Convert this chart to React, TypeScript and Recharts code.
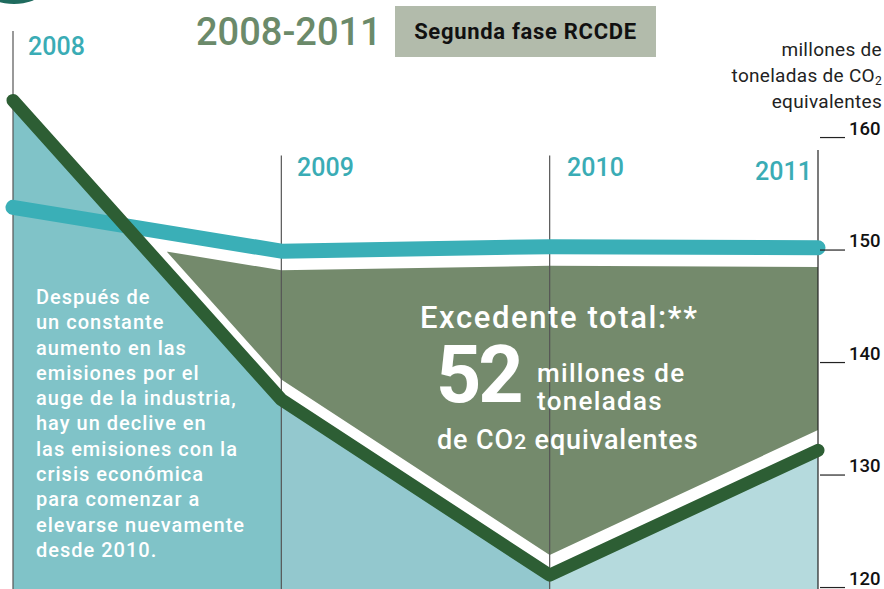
import React from "react";
import {
  ComposedChart,
  Area,
  Line,
  XAxis,
  YAxis,
  ReferenceLine
} from "recharts";

// emisiones verificadas (línea verde oscuro) y límite asignado (línea turquesa)
const years = [2008, 2009, 2010, 2011];
const emissions = [163.3, 136.7, 121.1, 132.2];
const allowances = [153.8, 149.9, 150.3, 150.2];
const yTicks = [120, 130, 140, 150, 160];

const W = 884;
const H = 589;
const Y_MIN = 119.87;
const Y_MAX = 169.56;

// white gaps between the olive surplus area and the two lines (value units)
const GAP_EMI = 1.8;
const GAP_ALLOW = 1.7;

const data = years.map((year, i) => ({
  year,
  emissions: emissions[i],
  allowances: allowances[i]
}));

// where the inset olive area starts (first segment, lines cross)
const crossT = (() => {
  const a0 = emissions[0] + GAP_EMI - (allowances[0] - GAP_ALLOW);
  const a1 = emissions[1] + GAP_EMI - (allowances[1] - GAP_ALLOW);
  const t = a0 / (a0 - a1);
  return t / (years.length - 1);
})();

const FONT = "Roboto, 'Noto Sans', sans-serif";
const TEAL = "#3aafb7";
const DARK = "#2d5e34";
const OLIVE = "#748a6c";
const GRID = "#555";

function RightTick({ x, y, payload }: any) {
  return (
    <g>
      <line x1={x + 2} x2={x + 27} y1={y} y2={y} stroke="#222" strokeWidth={1.2} />
      <text x={x + 31} y={y - 3} fontSize={18.5} fontWeight={500} fill="#111" fontFamily={FONT}>
        {payload.value}
      </text>
    </g>
  );
}

const yearStyle: React.CSSProperties = {
  position: "absolute",
  color: "#3aacb5",
  fontSize: 25,
  fontWeight: 500,
  lineHeight: "26px"
};

const white = (extra: React.CSSProperties): React.CSSProperties => ({
  position: "absolute",
  color: "#fff",
  fontWeight: 500,
  whiteSpace: "nowrap",
  ...extra
});

export default function App() {
  return (
    <div
      style={{
        position: "absolute",
        left: 0,
        top: 0,
        width: W,
        height: H,
        overflow: "hidden",
        background: "#fff",
        fontFamily: FONT
      }}
    >
      <ComposedChart
        width={W}
        height={H}
        data={data}
        margin={{ top: 30, right: 0, bottom: 0, left: 13 }}
      >
        <defs>
          <linearGradient id="tealFill" x1="0" y1="0" x2="1" y2="0">
            <stop offset="0" stopColor="#80c3c8" />
            <stop offset="0.3333" stopColor="#80c3c8" />
            <stop offset="0.3333" stopColor="#93c8ce" />
            <stop offset="0.6667" stopColor="#93c8ce" />
            <stop offset="0.6667" stopColor="#b5dadd" />
            <stop offset="1" stopColor="#b5dadd" />
          </linearGradient>
          <linearGradient id="oliveFill" x1="0" y1="0" x2="1" y2="0">
            <stop offset="0" stopColor={OLIVE} stopOpacity={0} />
            <stop offset={crossT} stopColor={OLIVE} stopOpacity={0} />
            <stop offset={crossT} stopColor={OLIVE} stopOpacity={1} />
            <stop offset="1" stopColor={OLIVE} stopOpacity={1} />
          </linearGradient>
        </defs>
        <XAxis dataKey="year" type="number" domain={[2008, 2011]} hide />
        <YAxis
          orientation="right"
          width={66}
          domain={[Y_MIN, Y_MAX]}
          ticks={yTicks}
          interval={0}
          allowDataOverflow
          axisLine={false}
          tickLine={false}
          tickSize={0}
          tickMargin={0}
          tick={<RightTick />}
        />
        <Area
          dataKey="emissions"
          type="linear"
          stroke="none"
          fill="url(#tealFill)"
          fillOpacity={1}
          baseValue={Y_MIN}
          isAnimationActive={false}
        />
        <ReferenceLine
          segment={[{ x: 2008, y: 169.47 }, { x: 2008, y: Y_MIN }]}
          stroke={GRID}
          strokeWidth={1.2}
        />
        <ReferenceLine
          segment={[{ x: 2009, y: 158.4 }, { x: 2009, y: Y_MIN }]}
          stroke={GRID}
          strokeWidth={1.2}
        />
        <ReferenceLine
          segment={[{ x: 2010, y: 158.4 }, { x: 2010, y: Y_MIN }]}
          stroke={GRID}
          strokeWidth={1.2}
        />
        <ReferenceLine
          segment={[{ x: 2011, y: 158.9 }, { x: 2011, y: Y_MIN }]}
          stroke="#222"
          strokeWidth={1.2}
        />
        <Area
          dataKey={(d: any) => [d.emissions + GAP_EMI, d.allowances - GAP_ALLOW]}
          type="linear"
          stroke="none"
          fill="url(#oliveFill)"
          fillOpacity={1}
          isAnimationActive={false}
        />
        <Line
          dataKey="allowances"
          type="linear"
          stroke={TEAL}
          strokeWidth={15}
          strokeLinecap="round"
          strokeLinejoin="round"
          dot={false}
          activeDot={false}
          isAnimationActive={false}
        />
        <Line
          dataKey="emissions"
          type="linear"
          stroke={DARK}
          strokeWidth={13}
          strokeLinecap="round"
          strokeLinejoin="round"
          dot={false}
          activeDot={false}
          isAnimationActive={false}
        />
      </ComposedChart>

      {/* logo fragment, top left */}
      <div
        style={{
          position: "absolute",
          left: -10,
          top: -14,
          width: 48,
          height: 18,
          borderRadius: "50%",
          background: "#1f6b5e"
        }}
      />

      <div
        style={{
          position: "absolute",
          left: 196,
          top: 10,
          fontSize: 38,
          fontWeight: 500,
          color: "#6b8a6a",
          lineHeight: "44px"
        }}
      >
        2008-2011
      </div>
      <div
        style={{
          position: "absolute",
          left: 395,
          top: 6,
          width: 261,
          height: 51,
          background: "#b2bbab",
          display: "flex",
          alignItems: "center",
          justifyContent: "center",
          fontSize: 22,
          fontWeight: 700,
          color: "#111",
          letterSpacing: 0.7
        }}
      >
        Segunda fase RCCDE
      </div>

      <div
        style={{
          position: "absolute",
          right: 2,
          top: 37,
          textAlign: "right",
          fontSize: 19,
          lineHeight: "26px",
          color: "#222",
          letterSpacing: 0.3
        }}
      >
        <div>millones de</div>
        <div>
          toneladas de CO
          <sub style={{ fontSize: 12, verticalAlign: "-3px", lineHeight: 0 }}>2</sub>
        </div>
        <div>equivalentes</div>
      </div>

      <div style={{ ...yearStyle, left: 28, top: 34 }}>2008</div>
      <div style={{ ...yearStyle, left: 297, top: 155 }}>2009</div>
      <div style={{ ...yearStyle, left: 567, top: 155 }}>2010</div>
      <div style={{ ...yearStyle, left: 755, top: 159 }}>2011</div>

      <div
        style={white({
          left: 36,
          top: 285,
          fontSize: 20,
          lineHeight: "25.3px",
          letterSpacing: 1
        })}
      >
        Después de
        <br />
        un constante
        <br />
        aumento en las
        <br />
        emisiones por el
        <br />
        auge de la industria,
        <br />
        hay un declive en
        <br />
        las emisiones con la
        <br />
        crisis económica
        <br />
        para comenzar a
        <br />
        elevarse nuevamente
        <br />
        desde 2010.
      </div>

      <div
        style={white({
          left: 420,
          top: 300,
          fontSize: 31,
          lineHeight: "36px",
          letterSpacing: 1.6
        })}
      >
        Excedente total:**
      </div>
      <div
        style={white({
          left: 436,
          top: 334,
          fontSize: 79,
          fontWeight: 700,
          lineHeight: "82px",
          letterSpacing: -3
        })}
      >
        52
      </div>
      <div
        style={white({
          left: 537,
          top: 360,
          fontSize: 26,
          lineHeight: "26px",
          letterSpacing: 1.3
        })}
      >
        millones de
      </div>
      <div
        style={white({
          left: 537,
          top: 388,
          fontSize: 26,
          lineHeight: "26px",
          letterSpacing: 1.3
        })}
      >
        toneladas
      </div>
      <div
        style={white({
          left: 437,
          top: 424,
          fontSize: 27,
          lineHeight: "32px",
          letterSpacing: 0.9
        })}
      >
        de CO<span style={{ fontSize: 21 }}>2</span> equivalentes
      </div>
    </div>
  );
}
